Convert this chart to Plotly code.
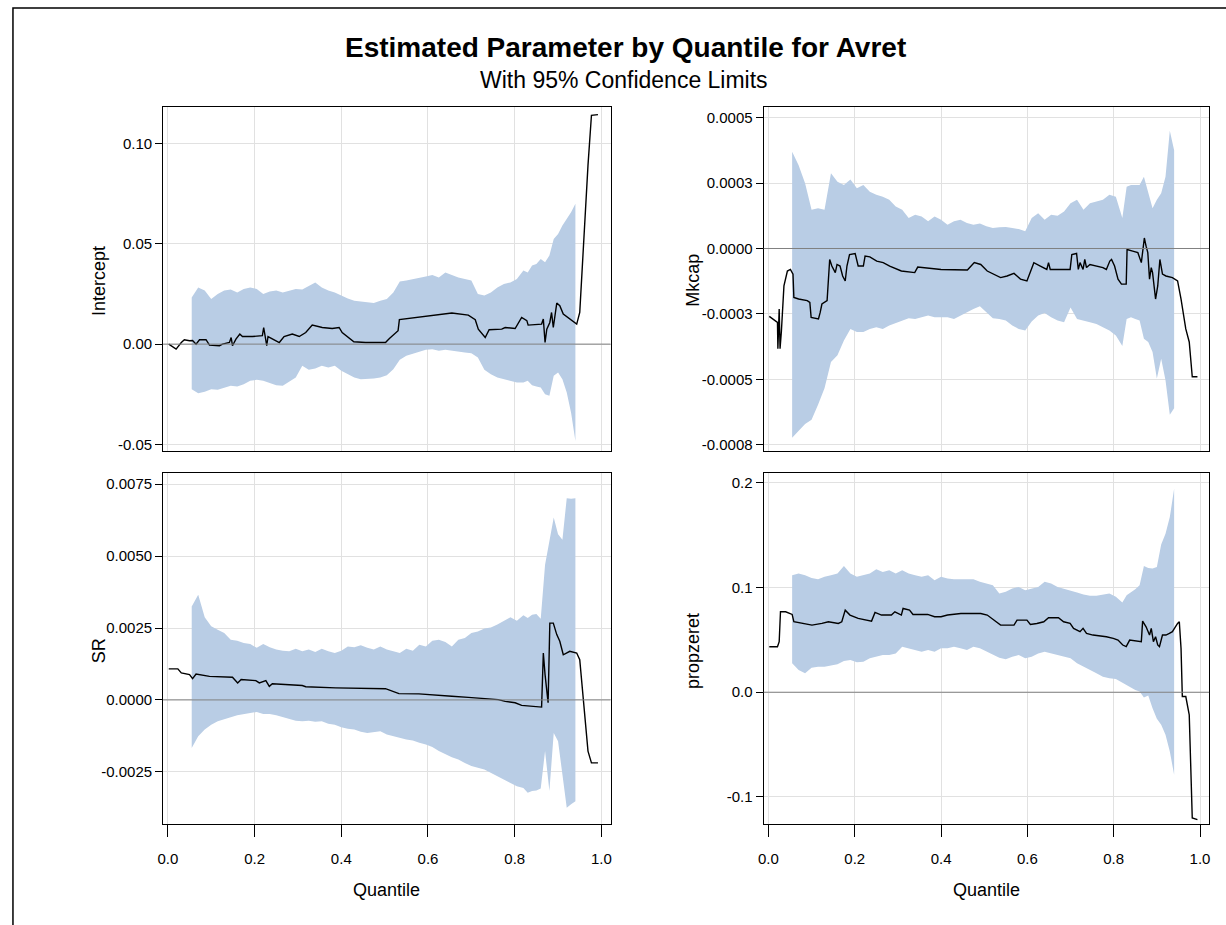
import plotly.graph_objects as go

# ---------------- data ----------------
band_q = [0.055, 0.07, 0.085, 0.10, 0.115, 0.13, 0.145, 0.16, 0.175, 0.19,
          0.205, 0.22, 0.235, 0.25, 0.265, 0.28, 0.295, 0.31, 0.325, 0.34,
          0.355, 0.37, 0.385, 0.40, 0.415, 0.43, 0.445, 0.46, 0.475, 0.49,
          0.505, 0.52, 0.535, 0.55, 0.565, 0.58, 0.595, 0.61, 0.625, 0.64,
          0.655, 0.67, 0.685, 0.70, 0.715, 0.73, 0.745, 0.76, 0.775, 0.79,
          0.805, 0.82, 0.83, 0.84, 0.85, 0.86, 0.87, 0.88, 0.89, 0.90,
          0.91, 0.92, 0.93, 0.94]

intercept_upper = [0.0233, 0.0283, 0.0267, 0.0225, 0.025, 0.0267, 0.0272, 0.0258, 0.0275, 0.0283,
                   0.0275, 0.025, 0.0262, 0.0267, 0.0258, 0.0267, 0.0275, 0.0272, 0.0292, 0.0308,
                   0.0283, 0.0267, 0.0258, 0.0242, 0.0228, 0.0217, 0.0212, 0.0208, 0.0205, 0.0217,
                   0.0225, 0.0258, 0.0312, 0.0317, 0.0325, 0.0333, 0.0338, 0.0345, 0.0333, 0.0358,
                   0.0345, 0.0333, 0.0325, 0.0317, 0.025, 0.0242, 0.0258, 0.0283, 0.03, 0.0308,
                   0.0325, 0.0367, 0.0358, 0.0392, 0.04, 0.0425, 0.0408, 0.0442, 0.0525, 0.055,
                   0.0592, 0.0625, 0.0658, 0.07]
intercept_lower = [-0.0225, -0.0245, -0.0238, -0.0225, -0.0228, -0.0217, -0.0208, -0.0212, -0.02, -0.0183,
                   -0.0178, -0.0183, -0.0192, -0.0205, -0.0208, -0.0188, -0.0167, -0.0108, -0.0128, -0.0122,
                   -0.0108, -0.0117, -0.0108, -0.0133, -0.015, -0.0167, -0.0175, -0.0175, -0.0172, -0.0167,
                   -0.0155, -0.0125, -0.0078, -0.0058, -0.0045, -0.0038, -0.0028, -0.0025, -0.0033, -0.0028,
                   -0.0033, -0.0038, -0.0042, -0.0045, -0.0067, -0.0128, -0.015, -0.0167, -0.0175, -0.0183,
                   -0.0192, -0.0192, -0.0183, -0.0205, -0.0212, -0.0217, -0.025, -0.0258, -0.0158, -0.0142,
                   -0.0175, -0.0242, -0.0342, -0.0483]
est_q_intercept = [0.002, 0.008, 0.019, 0.031, 0.038, 0.050, 0.057, 0.065, 0.073, 0.088,
                   0.096, 0.119, 0.126, 0.142, 0.146, 0.149, 0.157, 0.166, 0.172, 0.195,
                   0.218, 0.221, 0.224, 0.228, 0.231, 0.241, 0.257, 0.268, 0.287, 0.303,
                   0.318, 0.333, 0.356, 0.379, 0.395, 0.402, 0.414, 0.429, 0.456, 0.502,
                   0.511, 0.531, 0.534, 0.579, 0.617, 0.655, 0.693, 0.709, 0.716, 0.732,
                   0.741, 0.770, 0.778, 0.801, 0.816, 0.828, 0.831, 0.862, 0.866, 0.870,
                   0.874, 0.881, 0.885, 0.889, 0.897, 0.904, 0.912, 0.923, 0.943, 0.950,
                   0.954, 0.962, 0.969, 0.977, 0.992]
est_intercept = [0.0, -0.0008, -0.0025, 0.0008, 0.0022, 0.0017, 0.0018, 0.0, 0.0022, 0.0022,
                 -0.0005, -0.0008, 0.0, 0.0008, 0.0033, -0.0008, 0.0025, 0.005, 0.0038, 0.0038,
                 0.0042, 0.0083, 0.0038, -0.0008, 0.0038, 0.0025, 0.0008, 0.0038, 0.005, 0.0038,
                 0.0058, 0.0095, 0.0083, 0.0078, 0.0083, 0.0058, 0.0038, 0.0012, 0.0008, 0.0008,
                 0.0028, 0.0067, 0.0122, 0.0133, 0.0145, 0.0155, 0.0145, 0.0122, 0.0075, 0.0033,
                 0.0072, 0.0075, 0.0083, 0.0078, 0.0133, 0.0117, 0.0095, 0.01, 0.0125, 0.0008,
                 0.0075, 0.0108, 0.0158, 0.0083, 0.0205, 0.0192, 0.015, 0.0133, 0.01, 0.0158,
                 0.0325, 0.0642, 0.0892, 0.1142, 0.1145]

mkcap_upper = [3.69e-4, 3.18e-4, 2.49e-4, 1.48e-4, 1.54e-4, 1.48e-4, 2.87e-4, 2.55e-4, 2.42e-4, 2.63e-4,
               2.30e-4, 2.42e-4, 2.17e-4, 2.05e-4, 1.98e-4, 1.86e-4, 1.60e-4, 1.48e-4, 1.16e-4, 1.29e-4,
               1.22e-4, 1.04e-4, 1.22e-4, 1.10e-4, 0.91e-4, 1.04e-4, 1.10e-4, 0.97e-4, 0.91e-4, 0.95e-4,
               0.85e-4, 0.78e-4, 0.81e-4, 0.82e-4, 0.78e-4, 0.74e-4, 0.66e-4, 1.16e-4, 1.35e-4, 1.10e-4,
               1.29e-4, 1.25e-4, 1.41e-4, 1.73e-4, 1.86e-4, 1.48e-4, 1.73e-4, 1.79e-4, 1.86e-4, 2.05e-4,
               1.98e-4, 1.16e-4, 2.36e-4, 2.42e-4, 2.42e-4, 2.42e-4, 2.74e-4, 2.11e-4, 1.54e-4, 1.86e-4,
               2.11e-4, 2.74e-4, 4.50e-4, 3.75e-4]
mkcap_lower = [-7.23e-4, -6.96e-4, -6.70e-4, -6.54e-4, -5.97e-4, -5.34e-4, -4.33e-4, -4.08e-4, -3.51e-4, -3.07e-4,
               -3.19e-4, -3.19e-4, -3.07e-4, -3.01e-4, -3.07e-4, -2.94e-4, -2.82e-4, -2.75e-4, -2.66e-4, -2.69e-4,
               -2.63e-4, -2.56e-4, -2.63e-4, -2.63e-4, -2.63e-4, -2.69e-4, -2.56e-4, -2.44e-4, -2.31e-4, -2.21e-4,
               -2.44e-4, -2.66e-4, -2.69e-4, -2.75e-4, -2.94e-4, -3.07e-4, -3.13e-4, -2.79e-4, -2.56e-4, -2.46e-4,
               -2.63e-4, -2.75e-4, -2.82e-4, -2.25e-4, -2.69e-4, -2.75e-4, -2.82e-4, -2.88e-4, -3.01e-4, -3.13e-4,
               -3.32e-4, -3.72e-4, -2.69e-4, -2.63e-4, -2.69e-4, -2.75e-4, -3.45e-4, -3.57e-4, -3.95e-4, -4.96e-4,
               -4.21e-4, -5.03e-4, -6.35e-4, -6.10e-4]
est_q_mkcap = [0.002, 0.021, 0.022, 0.025, 0.027, 0.030, 0.036, 0.044, 0.051, 0.057,
               0.059, 0.070, 0.090, 0.096, 0.099, 0.116, 0.120, 0.124, 0.136, 0.142,
               0.147, 0.155, 0.159, 0.166, 0.172, 0.178, 0.182, 0.188, 0.201, 0.205,
               0.208, 0.220, 0.224, 0.235, 0.251, 0.266, 0.281, 0.308, 0.339, 0.346,
               0.400, 0.461, 0.477, 0.492, 0.507, 0.538, 0.553, 0.569, 0.584, 0.599,
               0.615, 0.630, 0.645, 0.649, 0.653, 0.699, 0.703, 0.714, 0.718, 0.722,
               0.729, 0.733, 0.737, 0.745, 0.775, 0.783, 0.791, 0.795, 0.802, 0.810,
               0.818, 0.829, 0.831, 0.844, 0.856, 0.864, 0.867, 0.871, 0.875, 0.879,
               0.883, 0.887, 0.890, 0.897, 0.902, 0.907, 0.913, 0.921, 0.936, 0.948,
               0.956, 0.967, 0.975, 0.982, 0.994]
est_mkcap = [-2.59e-4, -2.82e-4, -3.83e-4, -2.31e-4, -3.83e-4, -3.19e-4, -1.43e-4, -0.86e-4, -0.80e-4, -0.98e-4,
             -1.87e-4, -1.93e-4, -1.99e-4, -2.06e-4, -2.63e-4, -2.69e-4, -2.44e-4, -2.12e-4, -1.99e-4, -0.42e-4,
             -0.67e-4, -0.92e-4, -0.61e-4, -0.67e-4, -1.05e-4, -1.24e-4, -0.67e-4, -0.23e-4, -0.19e-4, -0.42e-4,
             -0.67e-4, -0.67e-4, -0.29e-4, -0.32e-4, -0.48e-4, -0.54e-4, -0.67e-4, -0.86e-4, -0.92e-4, -0.71e-4,
             -0.80e-4, -0.82e-4, -0.54e-4, -0.61e-4, -0.86e-4, -1.11e-4, -1.05e-4, -0.95e-4, -1.17e-4, -1.24e-4,
             -0.54e-4, -0.67e-4, -0.80e-4, -0.54e-4, -0.80e-4, -0.80e-4, -0.23e-4, -0.19e-4, -0.80e-4, -0.54e-4,
             -0.80e-4, -0.42e-4, -0.73e-4, -0.61e-4, -0.73e-4, -0.80e-4, -0.48e-4, -0.42e-4, -0.67e-4, -1.17e-4,
             -1.36e-4, -1.36e-4, -0.04e-4, -0.10e-4, -0.16e-4, -0.54e-4, -0.04e-4, 0.40e-4, 0.09e-4, -0.16e-4,
             -1.17e-4, -0.73e-4, -0.92e-4, -1.93e-4, -1.43e-4, -0.42e-4, -0.98e-4, -1.05e-4, -1.11e-4, -1.24e-4,
             -1.93e-4, -3.07e-4, -3.57e-4, -4.90e-4, -4.90e-4]

sr_upper = [32.5e-4, 36.6e-4, 28.7e-4, 25.6e-4, 24.4e-4, 23.3e-4, 20.9e-4, 20.6e-4, 19.8e-4, 19.4e-4,
            18.1e-4, 19.4e-4, 18.3e-4, 17.5e-4, 17.1e-4, 16.9e-4, 17.8e-4, 16.9e-4, 17.5e-4, 16.7e-4,
            17.8e-4, 16.9e-4, 16.3e-4, 17.1e-4, 18.6e-4, 18.3e-4, 19.0e-4, 18.1e-4, 17.5e-4, 18.6e-4,
            17.5e-4, 16.9e-4, 16.3e-4, 17.8e-4, 17.1e-4, 19.2e-4, 18.6e-4, 20.6e-4, 20.9e-4, 20.1e-4,
            18.6e-4, 20.9e-4, 21.5e-4, 23.3e-4, 23.8e-4, 24.8e-4, 25.2e-4, 26.2e-4, 27.5e-4, 28.7e-4,
            27.5e-4, 29.4e-4, 28.5e-4, 29.6e-4, 29.9e-4, 28.2e-4, 47.0e-4, 55.1e-4, 63.4e-4, 57.6e-4,
            55.7e-4, 70.1e-4, 69.9e-4, 70.1e-4]
sr_lower = [-16.7e-4, -12.6e-4, -10.3e-4, -8.6e-4, -7.4e-4, -6.8e-4, -6.0e-4, -5.3e-4, -4.9e-4, -4.5e-4,
            -4.2e-4, -4.9e-4, -4.9e-4, -5.3e-4, -6.0e-4, -6.5e-4, -7.2e-4, -7.4e-4, -7.2e-4, -7.6e-4,
            -7.4e-4, -8.3e-4, -8.6e-4, -9.5e-4, -10.0e-4, -10.3e-4, -11.1e-4, -11.5e-4, -11.1e-4, -10.9e-4,
            -12.0e-4, -12.6e-4, -13.2e-4, -13.8e-4, -14.1e-4, -14.9e-4, -15.5e-4, -16.4e-4, -17.8e-4, -18.8e-4,
            -19.9e-4, -20.7e-4, -21.9e-4, -23.0e-4, -23.6e-4, -24.2e-4, -25.3e-4, -26.5e-4, -27.7e-4, -28.8e-4,
            -30.0e-4, -30.6e-4, -32.3e-4, -31.7e-4, -31.5e-4, -30.8e-4, -17.8e-4, -31.7e-4, -11.5e-4, -14.4e-4,
            -25.9e-4, -37.5e-4, -36.3e-4, -35.2e-4]
est_q_sr = [0.002, 0.023, 0.031, 0.050, 0.057, 0.065, 0.096, 0.149, 0.161, 0.169,
            0.203, 0.211, 0.226, 0.234, 0.241, 0.272, 0.310, 0.318, 0.387, 0.502,
            0.510, 0.533, 0.579, 0.625, 0.655, 0.693, 0.732, 0.762, 0.778, 0.801,
            0.816, 0.862, 0.866, 0.870, 0.877, 0.881, 0.889, 0.897, 0.904, 0.912,
            0.927, 0.943, 0.950, 0.958, 0.969, 0.977, 0.992]
est_sr = [10.8e-4, 10.8e-4, 9.4e-4, 8.8e-4, 7.4e-4, 9.0e-4, 8.2e-4, 7.9e-4, 5.9e-4, 7.1e-4,
          6.7e-4, 5.9e-4, 6.7e-4, 4.7e-4, 5.6e-4, 5.3e-4, 5.0e-4, 4.6e-4, 4.2e-4, 3.9e-4,
          3.4e-4, 2.2e-4, 2.1e-4, 1.5e-4, 1.3e-4, 0.9e-4, 0.5e-4, 0.1e-4, -0.5e-4, -1.0e-4,
          -1.9e-4, -2.5e-4, 16.3e-4, 8.8e-4, -1.0e-4, 26.7e-4, 26.7e-4, 22.7e-4, 20.4e-4, 15.7e-4,
          16.9e-4, 16.3e-4, 14.0e-4, -0.5e-4, -17.8e-4, -21.9e-4, -21.9e-4]

prop_upper = [0.1117, 0.1133, 0.1117, 0.1092, 0.1079, 0.1102, 0.1117, 0.1133, 0.1206, 0.1133,
              0.1102, 0.1117, 0.1133, 0.1175, 0.1149, 0.1165, 0.1133, 0.1165, 0.1133, 0.1117,
              0.1102, 0.1117, 0.107, 0.1102, 0.1086, 0.1079, 0.1079, 0.1086, 0.1079, 0.1054,
              0.1038, 0.1022, 0.0943, 0.0959, 0.099, 0.1006, 0.0975, 0.099, 0.1006, 0.1054,
              0.1038, 0.1006, 0.099, 0.0975, 0.0952, 0.0933, 0.0921, 0.0921, 0.0933, 0.0943,
              0.0911, 0.0857, 0.0927, 0.0952, 0.0984, 0.1022, 0.1206, 0.1187, 0.1181, 0.1197,
              0.141, 0.1514, 0.1673, 0.1943]
prop_lower = [0.0276, 0.0213, 0.0181, 0.0235, 0.0244, 0.0244, 0.0254, 0.0267, 0.0298, 0.0308,
              0.0286, 0.0292, 0.0324, 0.034, 0.0356, 0.0356, 0.0371, 0.0435, 0.0419, 0.0403,
              0.0387, 0.0403, 0.0387, 0.0419, 0.0419, 0.0435, 0.0419, 0.0403, 0.0435, 0.0419,
              0.0387, 0.0362, 0.033, 0.0314, 0.034, 0.0356, 0.0324, 0.034, 0.0371, 0.0387,
              0.0371, 0.0356, 0.034, 0.0324, 0.0276, 0.0244, 0.0213, 0.0181, 0.0149, 0.0133,
              0.0127, 0.0086, 0.007, 0.0044, 0.0022, 0.0006, -0.0051, -0.0032, -0.0152, -0.0254,
              -0.0311, -0.0406, -0.0565, -0.0787]
est_q_prop = [0.002, 0.021, 0.025, 0.028, 0.040, 0.055, 0.059, 0.078, 0.101, 0.124,
              0.139, 0.162, 0.170, 0.178, 0.189, 0.208, 0.224, 0.239, 0.247, 0.262,
              0.285, 0.293, 0.308, 0.312, 0.327, 0.335, 0.369, 0.385, 0.400, 0.415,
              0.446, 0.492, 0.507, 0.523, 0.538, 0.569, 0.576, 0.599, 0.607, 0.622,
              0.638, 0.649, 0.672, 0.684, 0.699, 0.707, 0.722, 0.729, 0.737, 0.752,
              0.783, 0.799, 0.810, 0.821, 0.829, 0.837, 0.864, 0.867, 0.875, 0.883,
              0.887, 0.892, 0.897, 0.902, 0.906, 0.913, 0.921, 0.929, 0.936, 0.948,
              0.952, 0.956, 0.959, 0.967, 0.975, 0.982, 0.994]
est_prop = [0.0435, 0.0435, 0.0483, 0.0768, 0.0768, 0.0743, 0.0673, 0.0657, 0.0641, 0.0657,
            0.0673, 0.0657, 0.0673, 0.0784, 0.0737, 0.0705, 0.0689, 0.0679, 0.0762, 0.0737,
            0.0737, 0.0768, 0.0737, 0.08, 0.0784, 0.0743, 0.0743, 0.0721, 0.0721, 0.0737,
            0.0752, 0.0752, 0.0737, 0.0689, 0.0641, 0.0641, 0.0689, 0.0689, 0.0648, 0.0657,
            0.0673, 0.0711, 0.0711, 0.0673, 0.0657, 0.061, 0.0578, 0.061, 0.0562, 0.0546,
            0.053, 0.0514, 0.0498, 0.0451, 0.0435, 0.0498, 0.0483, 0.0679, 0.0625, 0.0546,
            0.061, 0.0483, 0.053, 0.0451, 0.0435, 0.0546, 0.0546, 0.0562, 0.0578, 0.0657,
            0.0673, 0.0419, -0.0041, -0.0041, -0.0216, -0.12, -0.1216]

# tick labels
quantile_ticks = [0.0, 0.2, 0.4, 0.6, 0.8, 1.0]
quantile_ticktext = ["0.0", "0.2", "0.4", "0.6", "0.8", "1.0"]
intercept_ticks = [-0.05, 0.0, 0.05, 0.10]
intercept_ticktext = ["-0.05", "0.00", "0.05", "0.10"]
mkcap_ticks = [-0.00075, -0.0005, -0.00025, 0.0, 0.00025, 0.0005]
mkcap_ticktext = ["-0.0008", "-0.0005", "-0.0003", "0.0000", "0.0003", "0.0005"]
sr_ticks = [-0.0025, 0.0, 0.0025, 0.005, 0.0075]
sr_ticktext = ["-0.0025", "0.0000", "0.0025", "0.0050", "0.0075"]
prop_ticks = [-0.1, 0.0, 0.1, 0.2]
prop_ticktext = ["-0.1", "0.0", "0.1", "0.2"]

title_text = "Estimated Parameter by Quantile for Avret"
subtitle_text = "With 95% Confidence Limits"
param_names = ["Intercept", "Mkcap", "SR", "propzeret"]

# ---------------- styling / layout ----------------
W, H = 1226, 925
FONT = "Liberation Sans, Arial, sans-serif"
BAND = "#B9CDE5"
GRID = "#E1E1E1"
REF = "#808080"
TICK_SIZE = 15
LABEL_SIZE = 18

def fx(p):
    return p / W

def fy(p):
    return 1 - p / H

px_x = {"L": (158, 608), "R": (762, 1210)}
px_y = {"T": (107, 452), "B": (475, 827)}
ytitle_x = {"L": 93, "R": 691}

def dom_x(k):
    a, b = px_x[k]
    return [fx(a), fx(b)]

def dom_y(k):
    a, b = px_y[k]
    return [fy(b), fy(a)]

panels = [
    dict(ax="", pos=("L", "T"), lower=intercept_lower, upper=intercept_upper, eq=est_q_intercept,
         ev=est_intercept, yr=[-0.0531, 0.1185], tv=intercept_ticks, tt=intercept_ticktext, name=param_names[0], bottom=False),
    dict(ax="2", pos=("R", "T"), lower=mkcap_lower, upper=mkcap_upper, eq=est_q_mkcap,
         ev=est_mkcap, yr=[-0.0007715, 0.0005416], tv=mkcap_ticks, tt=mkcap_ticktext, name=param_names[1], bottom=False),
    dict(ax="3", pos=("L", "B"), lower=sr_lower, upper=sr_upper, eq=est_q_sr,
         ev=est_sr, yr=[-0.004325, 0.007873], tv=sr_ticks, tt=sr_ticktext, name=param_names[2], bottom=True),
    dict(ax="4", pos=("R", "B"), lower=prop_lower, upper=prop_upper, eq=est_q_prop,
         ev=est_prop, yr=[-0.1261, 0.2089], tv=prop_ticks, tt=prop_ticktext, name=param_names[3], bottom=True),
]

fig = go.Figure()
layout = dict(
    width=W, height=H, autosize=False,
    margin=dict(l=0, r=0, t=0, b=0),
    paper_bgcolor="white", plot_bgcolor="white",
    showlegend=False, hovermode=False,
    font=dict(family=FONT, color="black", size=TICK_SIZE),
    shapes=[], annotations=[],
)

for p in panels:
    xa, ya = "x" + p["ax"], "y" + p["ax"]
    fig.add_trace(go.Scatter(
        x=band_q + band_q[::-1], y=p["upper"] + p["lower"][::-1],
        mode="lines", fill="toself", fillcolor=BAND, line=dict(width=0, color=BAND),
        hoverinfo="skip", xaxis=xa, yaxis=ya, showlegend=False))
    fig.add_trace(go.Scatter(
        x=p["eq"], y=p["ev"], mode="lines", line=dict(color="black", width=1.4),
        xaxis=xa, yaxis=ya, showlegend=False))

    kx, ky = p["pos"]
    xkey, ykey = "xaxis" + p["ax"], "yaxis" + p["ax"]
    xd = dict(domain=dom_x(kx), anchor=ya, range=[-0.011, 1.021],
              tickvals=quantile_ticks, ticktext=quantile_ticktext,
              showgrid=True, gridcolor=GRID, gridwidth=1, zeroline=False,
              showline=True, linecolor="black", linewidth=1, mirror=True,
              tickfont=dict(size=TICK_SIZE, family=FONT, color="black"))
    if p["bottom"]:
        xd.update(ticks="outside", ticklen=12, tickcolor="black", tickwidth=1,
                  showticklabels=True, ticklabelstandoff=9)
    else:
        xd.update(ticks="", showticklabels=False)
    yd = dict(domain=dom_y(ky), anchor=xa, range=p["yr"],
              tickvals=p["tv"], ticktext=p["tt"],
              showgrid=True, gridcolor=GRID, gridwidth=1, zeroline=False,
              showline=True, linecolor="black", linewidth=1, mirror=True,
              ticks="outside", ticklen=7, tickcolor="black", tickwidth=1,
              tickfont=dict(size=TICK_SIZE, family=FONT, color="black"))
    layout[xkey] = xd
    layout[ykey] = yd

    # reference line at zero
    layout["shapes"].append(dict(type="line", xref=xa + " domain", yref=ya,
                                 x0=0, x1=1, y0=0, y1=0, layer="above",
                                 line=dict(color=REF, width=1)))
    # y axis title
    a, b = px_x[kx]
    t, bt = px_y[ky]
    layout["annotations"].append(dict(
        text=p["name"], xref="paper", yref="paper", x=fx(ytitle_x[kx]), y=fy((t + bt) / 2 + 2),
        textangle=-90, showarrow=False, xanchor="center", yanchor="middle",
        font=dict(size=LABEL_SIZE, family=FONT, color="black")))
    if p["bottom"]:
        layout["annotations"].append(dict(
            text="Quantile", xref="paper", yref="paper", x=fx((a + b) / 2), y=fy(893),
            showarrow=False, xanchor="center", yanchor="middle",
            font=dict(size=LABEL_SIZE, family=FONT, color="black")))

# titles
layout["annotations"].append(dict(
    text="<b>" + title_text + "</b>", xref="paper", yref="paper", x=fx(623), y=fy(48),
    showarrow=False, xanchor="center", yanchor="middle",
    font=dict(size=28, family=FONT, color="black")))
layout["annotations"].append(dict(
    text=subtitle_text, xref="paper", yref="paper", x=fx(622), y=fy(80),
    showarrow=False, xanchor="center", yanchor="middle",
    font=dict(size=23, family=FONT, color="black")))

# outer frame
layout["shapes"].append(dict(type="rect", xref="paper", yref="paper",
                             x0=fx(7), x1=1.05, y0=-0.05, y1=fy(8),
                             line=dict(color="black", width=1.5), layer="above"))

fig.update_layout(**layout)
fig.write_html(
    "out.html",
    config={"displayModeBar": False, "staticPlot": True},
    post_script="document.body.style.margin='0';document.body.style.overflow='hidden';",
)
